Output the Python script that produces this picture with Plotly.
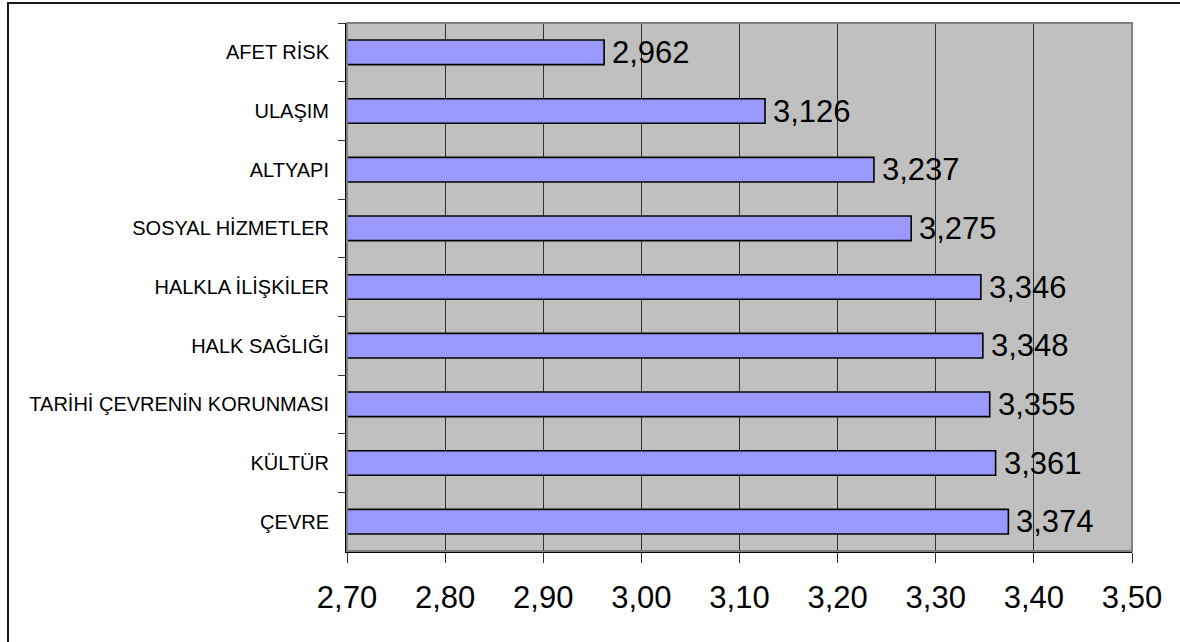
import plotly.graph_objects as go

# Categories (top to bottom) and their mean scores
categories = [
    "AFET RİSK",
    "ULAŞIM",
    "ALTYAPI",
    "SOSYAL HİZMETLER",
    "HALKLA İLİŞKİLER",
    "HALK SAĞLIĞI",
    "TARİHİ ÇEVRENİN KORUNMASI",
    "KÜLTÜR",
    "ÇEVRE",
]
scores = [2.962, 3.126, 3.237, 3.275, 3.346, 3.348, 3.355, 3.361, 3.374]

x_ticks = [2.70, 2.80, 2.90, 3.00, 3.10, 3.20, 3.30, 3.40, 3.50]
x_tick_labels = ["2,70", "2,80", "2,90", "3,00", "3,10", "3,20", "3,30", "3,40", "3,50"]

FONT = "Liberation Sans, Arial, sans-serif"


def fmt_tr(v):
    return f"{v:.3f}".replace(".", ",")


fig = go.Figure(
    go.Bar(
        x=scores,
        y=categories,
        orientation="h",
        width=0.42,
        marker=dict(color="#9999FF", line=dict(color="#000000", width=1.6)),
        hoverinfo="skip",
    )
)

# Value labels to the right of each bar
for cat, val in zip(categories, scores):
    fig.add_annotation(
        x=val,
        y=cat,
        text=fmt_tr(val),
        showarrow=False,
        xanchor="left",
        yanchor="middle",
        xshift=6,
        font=dict(family=FONT, size=31, color="#000000"),
    )

L, R, T, B = 347, 48, 23, 91
W, H = 1180, 642
pw, ph = W - L - R, H - T - B

# Gray frame on the plot area (top / right edges)
fig.add_shape(
    type="rect", xref="paper", yref="paper", x0=0, x1=1, y0=0, y1=1,
    line=dict(color="#808080", width=2), fillcolor="rgba(0,0,0,0)", layer="above",
)
# Outer chart border
fig.add_shape(
    type="rect", xref="paper", yref="paper",
    x0=(8 - L) / pw, x1=(W + 20 - L) / pw,
    y0=-(H + 20 - T - ph) / ph, y1=(H - B - 3) / ph,
    line=dict(color="#1a1a1a", width=2), fillcolor="rgba(0,0,0,0)", layer="above",
)

fig.update_layout(
    width=W,
    height=H,
    margin=dict(l=L, r=R, t=T, b=B, pad=0),
    paper_bgcolor="#FFFFFF",
    plot_bgcolor="#C0C0C0",
    showlegend=False,
    bargap=0.58,
    font=dict(family=FONT, color="#000000"),
)

fig.update_xaxes(
    range=[2.70, 3.50],
    tickvals=x_ticks,
    ticktext=x_tick_labels,
    tickfont=dict(family=FONT, size=31, color="#000000"),
    showgrid=True,
    gridcolor="#303030",
    gridwidth=1,
    zeroline=False,
    showline=True,
    linecolor="#000000",
    linewidth=2,
    ticks="outside",
    ticklen=10,
    tickwidth=1,
    tickcolor="#303030",
    ticklabelstandoff=8,
    fixedrange=True,
)

fig.update_yaxes(
    categoryorder="array",
    categoryarray=categories,
    autorange="reversed",
    tickfont=dict(family=FONT, size=20, color="#000000"),
    showgrid=False,
    zeroline=False,
    showline=True,
    linecolor="#000000",
    linewidth=2,
    ticks="outside",
    tickson="boundaries",
    ticklen=7,
    tickwidth=1,
    tickcolor="#303030",
    ticklabelstandoff=12,
    fixedrange=True,
)

fig.write_html("out.html")
